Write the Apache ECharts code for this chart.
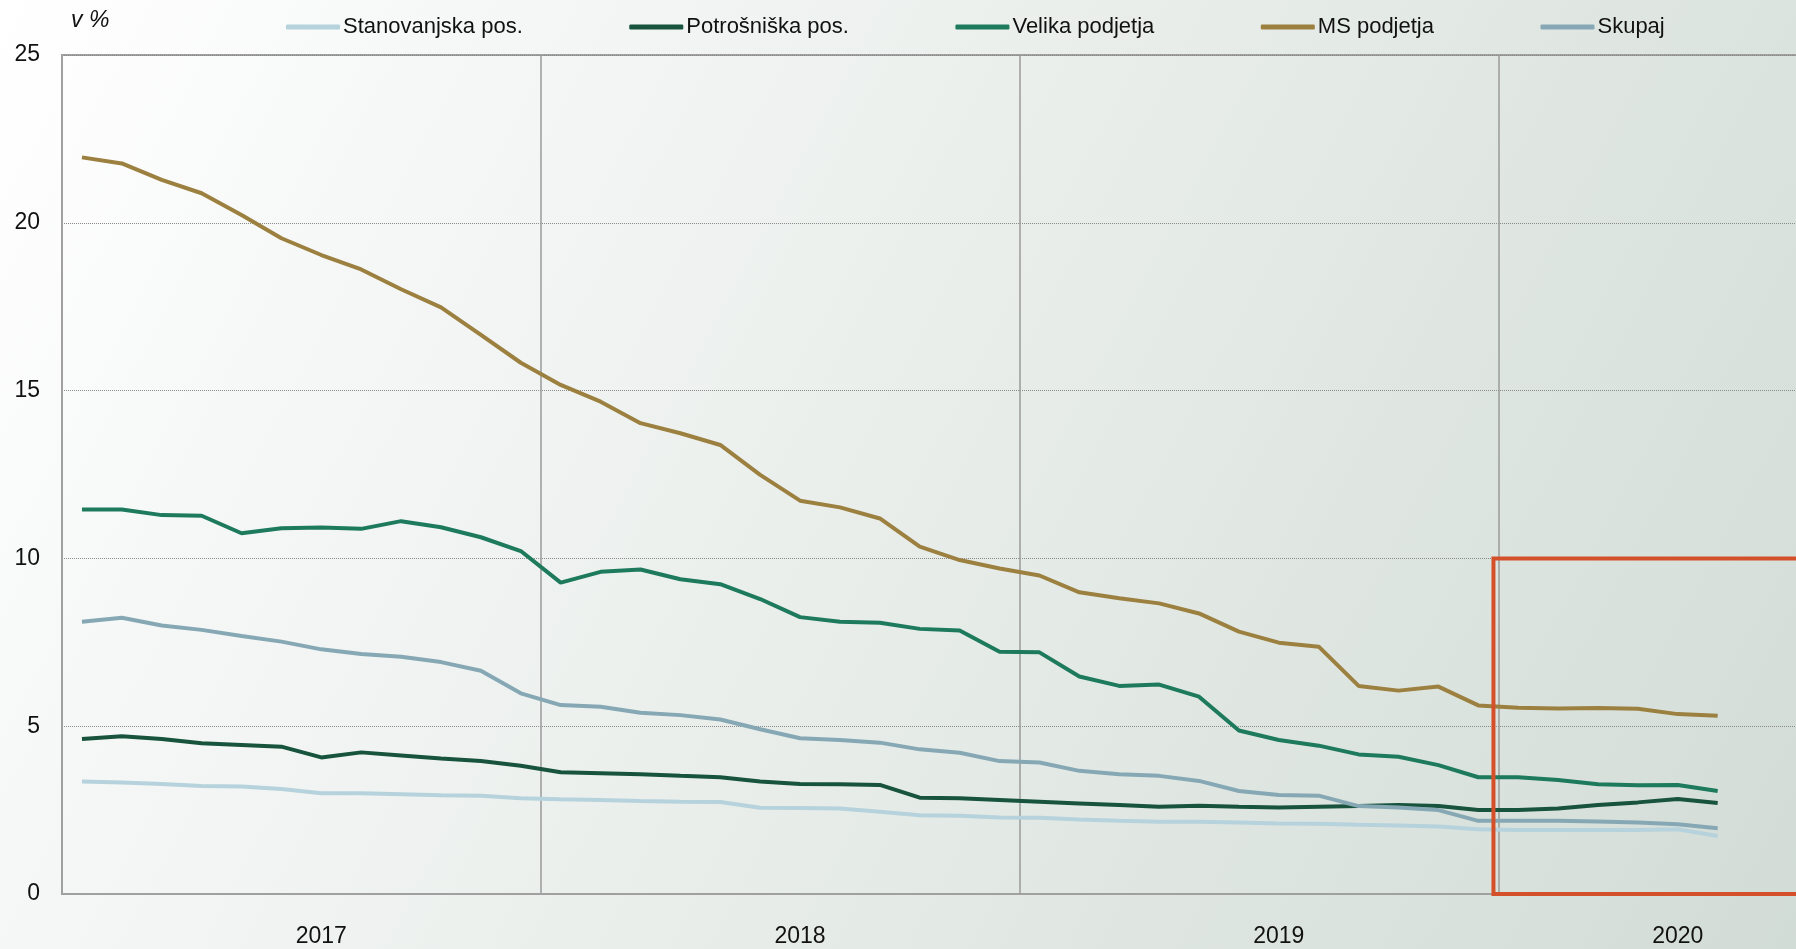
<!DOCTYPE html>
<html>
<head>
<meta charset="utf-8">
<script src="https://cdn.jsdelivr.net/npm/echarts@6/dist/echarts.min.js"></script>
<style>
  html, body { margin: 0; padding: 0; }
  #chart { width: 1796px; height: 949px; }
</style>
</head>
<body>
<div id="chart"></div>
<script>
// meseci jan 2017 - dec 2020, podatki do jun 2020
const years = ['2017', '2018', '2019', '2020']
const monthNames = ['jan', 'feb', 'mar', 'apr', 'maj', 'jun', 'jul', 'avg', 'sep', 'okt', 'nov', 'dec']
const yearLabelMonth = { '2017': 'jul', '2018': 'jul', '2019': 'jul', '2020': 'maj' }

const stanovanjska = [3.35, 3.32, 3.28, 3.22, 3.20, 3.13, 3.00, 3.00, 2.97, 2.94, 2.93, 2.85,
  2.82, 2.80, 2.77, 2.75, 2.74, 2.57, 2.56, 2.55, 2.45, 2.35,
  2.33, 2.28, 2.27, 2.22, 2.18, 2.15, 2.15, 2.13, 2.10, 2.09,
  2.06, 2.04, 2.01, 1.93, 1.91, 1.91, 1.91, 1.91, 1.93, 1.73]
const potrosniska = [4.62, 4.70, 4.62, 4.49, 4.44, 4.39, 4.07, 4.22, 4.13, 4.04, 3.96, 3.82,
  3.63, 3.60, 3.57, 3.52, 3.48, 3.35, 3.28, 3.27, 3.25, 2.87,
  2.85, 2.80, 2.75, 2.70, 2.65, 2.60, 2.63, 2.60, 2.58, 2.60,
  2.62, 2.65, 2.62, 2.50, 2.50, 2.55, 2.65, 2.73, 2.83, 2.71]
const velika = [11.46, 11.46, 11.29, 11.27, 10.75, 10.90, 10.92, 10.88, 11.11, 10.93, 10.63, 10.22,
  9.28, 9.60, 9.67, 9.38, 9.23, 8.79, 8.25, 8.11, 8.08, 7.90,
  7.85, 7.22, 7.20, 6.48, 6.20, 6.24, 5.88, 4.87, 4.59, 4.42,
  4.16, 4.09, 3.84, 3.48, 3.48, 3.40, 3.27, 3.24, 3.25, 3.07]
const msPodjetja = [21.95, 21.77, 21.28, 20.88, 20.23, 19.54, 19.04, 18.61, 18.02, 17.48, 16.66, 15.83,
  15.17, 14.67, 14.03, 13.73, 13.38, 12.49, 11.72, 11.52, 11.19, 10.35,
  9.95, 9.70, 9.49, 8.99, 8.81, 8.66, 8.36, 7.82, 7.49, 7.37,
  6.20, 6.06, 6.18, 5.62, 5.55, 5.53, 5.54, 5.52, 5.36, 5.31]
const skupaj = [8.11, 8.23, 8.00, 7.87, 7.69, 7.52, 7.29, 7.15, 7.07, 6.91, 6.65, 5.98,
  5.63, 5.58, 5.40, 5.33, 5.20, 4.91, 4.64, 4.59, 4.51, 4.31,
  4.21, 3.96, 3.92, 3.67, 3.57, 3.52, 3.37, 3.07, 2.95, 2.93,
  2.62, 2.58, 2.50, 2.18, 2.18, 2.18, 2.16, 2.13, 2.08, 1.96]

const seriesNames = ['Stanovanjska pos.', 'Potrošniška pos.', 'Velika podjetja', 'MS podjetja', 'Skupaj']
const seriesData = [stanovanjska, potrosniska, velika, msPodjetja, skupaj]
const colors = ['#b6d2dc', '#17533d', '#1e7a5c', '#9c8040', '#86a8b5']

// okvir (zadnje obdobje), v enotah mesecev / %
const boxFrom = [35.88, 10]
const boxTo = [48, 0]

let categories = []
years.forEach(function (y) {
  monthNames.forEach(function (m) {
    categories.push(m + ' ' + y)
  })
})

const font = "'Liberation Sans Narrow', 'Arial Narrow', 'Liberation Sans', sans-serif"

const chart = echarts.init(document.getElementById('chart'))

let series = seriesNames.map(function (name, i) {
  return {
    name: name,
    type: 'line',
    data: seriesData[i],
    symbol: 'none',
    lineStyle: { width: 4, color: colors[i] },
    itemStyle: { color: colors[i] },
    z: 3
  }
})
series.push({
  type: 'line',
  xAxisIndex: 1,
  data: [],
  silent: true,
  markArea: {
    silent: true,
    itemStyle: { color: 'rgba(0,0,0,0)', borderColor: '#d4502a', borderWidth: 4 },
    data: [[{ coord: boxFrom }, { coord: boxTo }]],
    z: 5
  }
})

const option = {
  backgroundColor: new echarts.graphic.LinearGradient(0, 0, 1, 1, [
    { offset: 0, color: '#ffffff' },
    { offset: 1, color: '#d2dcd6' }
  ]),
  animation: false,
  title: {
    text: 'v %',
    left: 66,
    top: 4,
    textStyle: { fontFamily: font, fontSize: 23, fontStyle: 'italic', fontWeight: 'normal', color: '#111' }
  },
  legend: {
    data: seriesNames,
    left: 281,
    top: 11,
    icon: 'roundRect',
    itemWidth: 54,
    itemHeight: 5,
    itemGap: 106.5,
    textStyle: { fontFamily: font, fontSize: 22, color: '#111', padding: [0, 0, 0, -2] }
  },
  grid: {
    left: 62,
    right: -181,
    top: 55,
    bottom: 55,
    outerBoundsMode: 'none',
    show: true,
    borderColor: '#a0a0a0',
    borderWidth: 2,
    backgroundColor: 'rgba(0,0,0,0)'
  },
  xAxis: [{
    type: 'category',
    data: categories,
    boundaryGap: true,
    axisLine: { show: true, lineStyle: { color: '#a0a0a0', width: 2 } },
    axisTick: { show: false },
    splitLine: { show: false },
    axisLabel: {
      interval: 0,
      margin: 31,
      fontFamily: font,
      fontSize: 23,
      color: '#111',
      formatter: function (val) {
        let parts = val.split(' ')
        return yearLabelMonth[parts[1]] === parts[0] ? parts[1] : ''
      }
    }
  }, {
    type: 'value',
    min: 0,
    max: 48,
    interval: 12,
    show: true,
    position: 'bottom',
    axisLine: { show: false },
    axisTick: { show: false },
    axisLabel: { show: false },
    splitLine: { show: true, lineStyle: { color: '#9a9a9a', width: 1.5 } }
  }],
  yAxis: {
    type: 'value',
    min: 0,
    max: 25,
    interval: 5,
    axisLine: { show: true, lineStyle: { color: '#a0a0a0', width: 2 } },
    axisTick: { show: false },
    axisLabel: { margin: 22, fontFamily: font, fontSize: 23, color: '#111' },
    splitLine: { show: true, lineStyle: { color: '#8a8a8a', type: 'dotted', width: 1 } }
  },
  series: series
}

chart.setOption(option)
</script>
</body>
</html>
